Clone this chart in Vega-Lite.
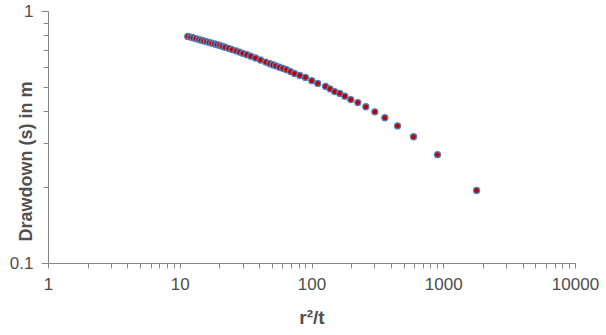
{
  "$schema": "https://vega.github.io/schema/vega-lite/v6.json",
  "width": 527,
  "height": 252,
  "autosize": {"type": "none"},
  "padding": {"left": 48, "top": 11, "right": 31, "bottom": 72},
  "background": "white",
  "config": {"view": {"stroke": null}, "font": "Liberation Sans"},
  "data": {"values": [
    {"x": 11.50, "s": 0.793}, {"x": 12.06, "s": 0.788}, {"x": 12.62, "s": 0.783}, {"x": 13.23, "s": 0.777},
    {"x": 13.87, "s": 0.772}, {"x": 14.51, "s": 0.766}, {"x": 15.21, "s": 0.761}, {"x": 15.95, "s": 0.756},
    {"x": 16.69, "s": 0.751}, {"x": 17.50, "s": 0.745}, {"x": 18.34, "s": 0.740}, {"x": 19.20, "s": 0.735},
    {"x": 20.12, "s": 0.730}, {"x": 21.02, "s": 0.724}, {"x": 22.08, "s": 0.718}, {"x": 23.56, "s": 0.711},
    {"x": 24.96, "s": 0.703}, {"x": 26.76, "s": 0.695}, {"x": 28.40, "s": 0.687}, {"x": 30.09, "s": 0.679},
    {"x": 32.27, "s": 0.671}, {"x": 34.60, "s": 0.662}, {"x": 37.57, "s": 0.651}, {"x": 41.01, "s": 0.639},
    {"x": 44.98, "s": 0.627}, {"x": 48.24, "s": 0.618}, {"x": 50.84, "s": 0.612}, {"x": 53.57, "s": 0.606},
    {"x": 57.15, "s": 0.598}, {"x": 60.54, "s": 0.592}, {"x": 64.58, "s": 0.585}, {"x": 69.27, "s": 0.575},
    {"x": 74.28, "s": 0.565}, {"x": 81.5, "s": 0.555}, {"x": 90.0, "s": 0.545}, {"x": 100.5, "s": 0.529},
    {"x": 111.6, "s": 0.516}, {"x": 127.8, "s": 0.502}, {"x": 138.2, "s": 0.491}, {"x": 149.8, "s": 0.479},
    {"x": 164.0, "s": 0.471}, {"x": 179.0, "s": 0.459}, {"x": 198.8, "s": 0.445}, {"x": 224.7, "s": 0.433},
    {"x": 258.4, "s": 0.417}, {"x": 302.5, "s": 0.398}, {"x": 360.3, "s": 0.377}, {"x": 449.8, "s": 0.350},
    {"x": 595.0, "s": 0.317}, {"x": 904.8, "s": 0.269}, {"x": 1790, "s": 0.194}
  ]},
  "mark": {"type": "point", "filled": true, "shape": "circle", "size": 36, "fill": "#c00000", "stroke": "#4f81bd", "strokeWidth": 1.3, "opacity": 1, "fillOpacity": 1, "strokeOpacity": 1},
  "encoding": {
    "x": {
      "field": "x", "type": "quantitative",
      "scale": {"type": "log", "domain": [1, 10000], "nice": false},
      "axis": {
        "title": "r²/t",
        "values": [1,2,3,4,5,6,7,8,9,10,20,30,40,50,60,70,80,90,100,200,300,400,500,600,700,800,900,1000,2000,3000,4000,5000,6000,7000,8000,9000,10000],
        "labelExpr": "indexof([1,10,100,1000,10000], datum.value) >= 0 ? datum.label : ''",
        "format": "d",
        "grid": false,
        "domainColor": "#868686",
        "tickColor": "#868686",
        "tickSize": 5,
        "labelPadding": 8,
        "labelFontSize": 17,
        "labelColor": "#4d4d4d",
        "labelFlush": false,
        "labelOverlap": false,
        "titleFontSize": 19,
        "titleFontWeight": "bold",
        "titleColor": "#505050",
        "titlePadding": 16
      }
    },
    "y": {
      "field": "s", "type": "quantitative",
      "scale": {"type": "log", "domain": [0.1, 1], "nice": false},
      "axis": {
        "title": "Drawdown (s) in m",
        "values": [0.1,0.2,0.3,0.4,0.5,0.6,0.7,0.8,0.9,1],
        "labelExpr": "datum.value == 1 ? '1' : (datum.value == 0.1 ? '0.1' : '')",
        "grid": false,
        "domainColor": "#868686",
        "tickColor": "#868686",
        "tickSize": {"condition": {"test": "datum.value == 1 || datum.value == 0.1", "value": 7}, "value": 5},
        "labelPadding": 8,
        "labelFontSize": 17,
        "labelColor": "#4d4d4d",
        "labelFlush": false,
        "labelOverlap": false,
        "titleFontSize": 18,
        "titleFontWeight": "bold",
        "titleColor": "#505050",
        "titleY": 150,
        "titleX": -17,
        "titleBaseline": "alphabetic"
      }
    }
  }
}
